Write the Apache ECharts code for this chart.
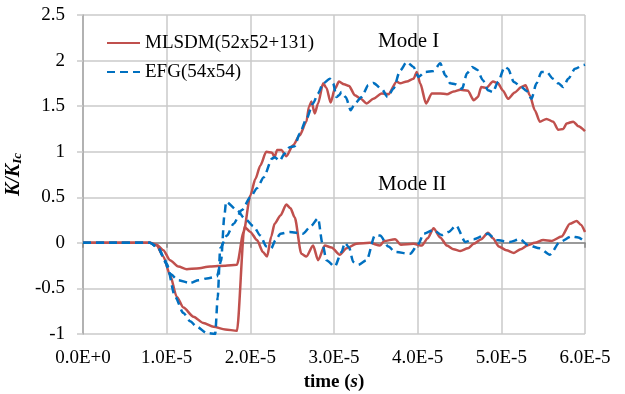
<!DOCTYPE html>
<html>
<head>
<meta charset="utf-8">
<script src="https://cdn.jsdelivr.net/npm/echarts@6/dist/echarts.min.js"></script>
<style>
  html, body { margin: 0; padding: 0; background: #fff; }
  #chart { width: 625px; height: 394px; }
</style>
</head>
<body>
<div id="chart"></div>
<script>
// time in units of 1E-5 s, value K/KIc
var mlsdmModeI = [[0,0],[0.4,0],[0.8,0],[0.88,-0.02],[0.96,-0.08],[1.04,-0.19],[1.14,-0.26],[1.24,-0.29],
  [1.36,-0.28],[1.52,-0.26],[1.7,-0.25],[1.84,-0.24],[1.92,0.12],[2.0,0.52],[2.06,0.7],[2.12,0.85],
  [2.19,1.0],[2.26,0.99],[2.29,0.94],[2.32,1.02],[2.37,1.02],[2.43,0.95],[2.51,1.07],[2.59,1.18],
  [2.67,1.33],[2.7,1.49],[2.73,1.55],[2.77,1.42],[2.81,1.53],[2.87,1.75],[2.91,1.7],[2.96,1.54],
  [3.01,1.69],[3.06,1.77],[3.12,1.74],[3.18,1.72],[3.25,1.62],[3.32,1.58],[3.39,1.53],[3.47,1.58],
  [3.57,1.64],[3.65,1.63],[3.75,1.77],[3.79,1.75],[3.87,1.77],[3.95,1.8],[3.99,1.875],[4.03,1.75],
  [4.1,1.53],[4.17,1.64],[4.27,1.64],[4.35,1.63],[4.43,1.66],[4.51,1.68],[4.6,1.67],[4.67,1.565],
  [4.72,1.6],[4.76,1.71],[4.82,1.7],[4.9,1.77],[4.96,1.75],[5.02,1.67],[5.08,1.58],[5.16,1.65],
  [5.24,1.71],[5.29,1.73],[5.34,1.62],[5.4,1.455],[5.46,1.33],[5.54,1.36],[5.62,1.33],[5.68,1.24],
  [5.74,1.25],[5.78,1.31],[5.86,1.33],[5.92,1.28],[6.0,1.225]];

var mlsdmModeII = [[0,0],[0.4,0],[0.8,0],[0.88,-0.03],[0.96,-0.15],[1.04,-0.35],[1.12,-0.59],[1.2,-0.71],
  [1.32,-0.81],[1.44,-0.88],[1.56,-0.92],[1.7,-0.95],[1.84,-0.965],[1.93,0.175],[2.0,0.12],[2.08,0.03],
  [2.15,-0.1],[2.2,-0.15],[2.25,0.07],[2.29,0.21],[2.36,0.3],[2.43,0.42],[2.48,0.38],[2.53,0.28],
  [2.61,-0.12],[2.67,-0.15],[2.75,-0.03],[2.81,-0.19],[2.89,-0.03],[2.97,-0.05],[3.07,-0.13],[3.15,-0.06],
  [3.27,-0.01],[3.43,0.0],[3.55,-0.03],[3.6,0.02],[3.73,0.04],[3.8,-0.02],[3.95,-0.01],[4.05,-0.03],
  [4.12,0.05],[4.19,0.16],[4.27,0.06],[4.35,-0.03],[4.43,-0.07],[4.51,-0.09],[4.6,-0.06],[4.67,-0.01],
  [4.76,0.04],[4.84,0.11],[4.9,0.05],[4.97,-0.04],[5.06,-0.08],[5.15,-0.11],[5.23,-0.07],[5.31,-0.03],
  [5.4,0.0],[5.5,0.03],[5.6,0.02],[5.72,0.07],[5.82,0.21],[5.9,0.24],[5.95,0.2],[6.0,0.12]];

var efgModeI = [[0,0],[0.4,0],[0.8,0],[0.9,-0.06],[1.0,-0.23],[1.1,-0.59],[1.2,-0.77],[1.28,-0.86],
  [1.36,-0.92],[1.48,-0.99],[1.58,-1.0],[1.61,-0.6],[1.64,-0.06],[1.72,0.08],[1.8,0.21],[1.9,0.36],
  [2.0,0.5],[2.08,0.6],[2.16,0.72],[2.26,0.925],[2.29,0.94],[2.35,0.9],[2.41,0.98],[2.47,1.05],
  [2.53,1.06],[2.59,1.2],[2.67,1.36],[2.75,1.53],[2.81,1.64],[2.87,1.75],[2.95,1.8],[2.99,1.75],
  [3.03,1.6],[3.06,1.62],[3.09,1.655],[3.14,1.6],[3.2,1.455],[3.25,1.53],[3.33,1.6],[3.41,1.73],
  [3.47,1.755],[3.57,1.69],[3.64,1.6],[3.71,1.69],[3.79,1.89],[3.87,1.985],[3.95,1.93],[4.01,1.82],
  [4.09,1.875],[4.19,1.885],[4.27,1.97],[4.33,1.84],[4.39,1.75],[4.45,1.74],[4.53,1.69],[4.59,1.86],
  [4.65,1.93],[4.71,1.9],[4.78,1.785],[4.84,1.675],[4.9,1.655],[4.96,1.765],[5.04,1.93],[5.08,1.91],
  [5.15,1.765],[5.24,1.71],[5.3,1.67],[5.36,1.58],[5.42,1.75],[5.48,1.875],[5.54,1.875],[5.62,1.8],
  [5.68,1.75],[5.74,1.71],[5.8,1.8],[5.88,1.91],[5.98,1.95],[6.0,1.955]];

var efgModeII = [[0,0],[0.4,0],[0.8,0],[0.9,-0.05],[0.96,-0.15],[1.04,-0.34],[1.14,-0.41],[1.28,-0.44],
  [1.38,-0.41],[1.48,-0.39],[1.6,-0.37],[1.65,-0.2],[1.69,0.3],[1.71,0.45],[1.84,0.36],[1.94,0.26],
  [2.04,0.18],[2.12,0.08],[2.19,-0.04],[2.25,-0.06],[2.3,0.03],[2.36,0.1],[2.47,0.12],[2.63,0.1],
  [2.72,0.18],[2.81,0.27],[2.86,0.0],[2.91,-0.19],[3.01,-0.26],[3.09,-0.1],[3.13,0.0],[3.18,-0.05],
  [3.23,-0.21],[3.29,-0.24],[3.39,-0.19],[3.49,0.085],[3.55,0.08],[3.65,-0.04],[3.73,-0.1],[3.91,-0.12],
  [4.01,-0.01],[4.07,0.1],[4.19,0.14],[4.29,0.085],[4.37,0.12],[4.46,0.19],[4.57,0.01],[4.67,0.04],
  [4.84,0.1],[4.94,0.03],[5.1,0.01],[5.22,0.04],[5.32,-0.025],[5.46,-0.06],[5.58,-0.13],[5.7,0.01],
  [5.84,0.07],[5.92,0.06],[6.0,0.01]];

var seriesNames = ['MLSDM(52x52+131)', 'EFG(54x54)'];
var modeLabels = ['Mode I', 'Mode II'];

var serif = '"Liberation Serif", "Times New Roman", serif';
var red = '#C0504D', blue = '#0070C0';
var gridColor = '#CACACA';

function xLabel(v) {
  if (v === 0) return '0.0E+0';
  return v.toFixed(1) + 'E-5';
}

var myChart = echarts.init(document.querySelector('#chart'));

function lineSeries(name, data, color, dashed) {
  return {
    name: name,
    type: 'line',
    data: data,
    showSymbol: false,
    symbol: 'none',
    smooth: 0.25,
    smoothMonotone: 'x',
    lineStyle: { color: color, width: 2.5, type: dashed ? [8, 5] : 'solid' },
    itemStyle: { color: color }
  };
}

var option = {
  animation: false,
  backgroundColor: '#fff',
  grid: { left: 83, right: 40, top: 15, bottom: 60, outerBoundsMode: 'none', containLabel: false },
  legend: {
    orient: 'vertical',
    left: 106,
    top: 33,
    padding: 0,
    itemWidth: 33,
    itemHeight: 14,
    itemGap: 9,
    data: seriesNames,
    itemStyle: { opacity: 0 },
    textStyle: { fontFamily: serif, fontSize: 19, color: '#000', lineHeight: 20 }
  },
  graphic: [
    { type: 'text', left: 378, top: 31, style: { text: modeLabels[0], font: '21px ' + serif, fill: '#000' } },
    { type: 'text', left: 378, top: 174, style: { text: modeLabels[1], font: '21px ' + serif, fill: '#000' } }
  ],
  xAxis: [
    {
      type: 'value', min: 0, max: 6, interval: 1,
      axisLine: { show: false, onZero: false },
      axisTick: { show: false },
      axisLabel: { formatter: xLabel, fontFamily: serif, fontSize: 19, color: '#000', margin: 15 },
      splitLine: { show: true, lineStyle: { color: gridColor, width: 1.5 } },
      name: '{a|time (}{b|s}{a|)}',
      nameLocation: 'middle',
      nameGap: 39,
      nameTextStyle: {
        rich: {
          a: { fontFamily: serif, fontSize: 19, fontWeight: 'bold', color: '#000' },
          b: { fontFamily: serif, fontSize: 19, fontWeight: 'bold', fontStyle: 'italic', color: '#000' }
        }
      }
    },
    {
      type: 'value', min: 0, max: 6, interval: 1,
      position: 'top',
      axisLine: { show: true, onZero: true, onZeroAxisIndex: 0, lineStyle: { color: '#868686', width: 1.5 } },
      axisTick: { show: true, inside: true, length: 5, lineStyle: { color: '#868686', width: 1.5 } },
      axisLabel: { show: false },
      splitLine: { show: false }
    }
  ],
  yAxis: {
    type: 'value', min: -1, max: 2.5, interval: 0.5,
    axisLine: { show: true, lineStyle: { color: '#A6A6A6', width: 1.5 } },
    axisTick: { show: true, length: 6, lineStyle: { color: gridColor, width: 1.5 } },
    axisLabel: { fontFamily: serif, fontSize: 19, color: '#000', margin: 18 },
    splitLine: { show: true, lineStyle: { color: gridColor, width: 1.5 } },
    name: '{a|K/K}{b|Ic}',
    nameLocation: 'middle',
    nameRotate: 90,
    nameGap: 42,
    nameTextStyle: {
      align: 'center',
      verticalAlign: 'middle',
      rich: {
        a: { fontFamily: serif, fontSize: 20, fontWeight: 'bold', fontStyle: 'italic', color: '#000' },
        b: { fontFamily: serif, fontSize: 13, fontWeight: 'bold', fontStyle: 'italic', color: '#000', padding: [8, 0, 0, 0] }
      }
    }
  },
  series: [
    lineSeries(seriesNames[0], mlsdmModeI, red, false),
    lineSeries(seriesNames[0], mlsdmModeII, red, false),
    lineSeries(seriesNames[1], efgModeI, blue, true),
    lineSeries(seriesNames[1], efgModeII, blue, true)
  ]
};

myChart.setOption(option, true);
</script>
</body>
</html>
